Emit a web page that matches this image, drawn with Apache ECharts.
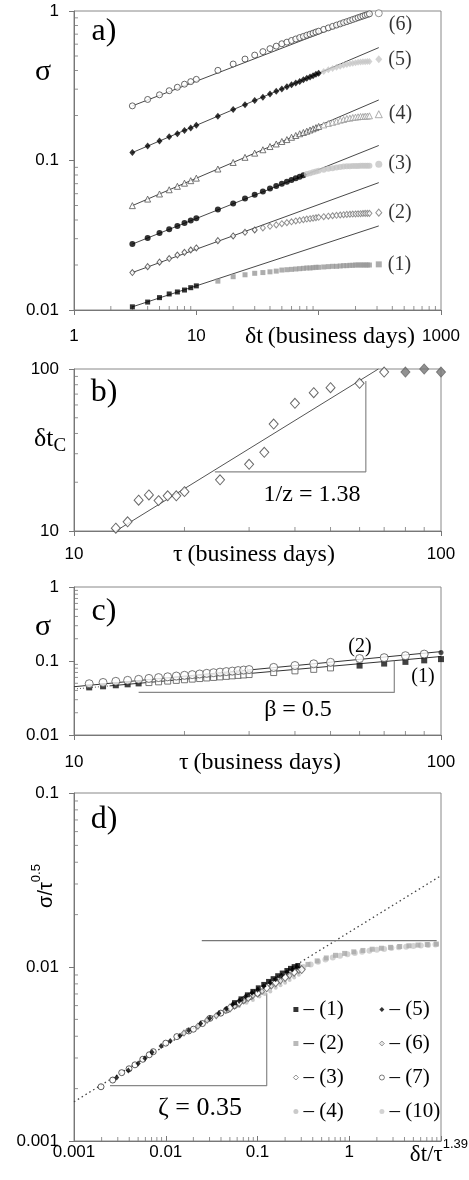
<!DOCTYPE html>
<html><head><meta charset="utf-8">
<script src="https://cdn.jsdelivr.net/npm/echarts@6/dist/echarts.min.js"></script>
<style>html,body{margin:0;padding:0;background:#fff}#c{width:469px;height:1180px}</style>
</head><body><div id="c"></div>
<script>
// ---------- DATA ----------
// panel a: sigma vs dt
const aX = [3,4,5,6,7,8,9,10,15,20,25,30,35,40,45,50,55,60,65,70,75,80,85,90,95,100,110,120,130,140,150,160,170,180,190,200,210,220,230,240,250,260];
const aS1 = [0.0105,0.0113,0.0121,0.0128,0.0132,0.0136,0.0141,0.0145,0.0156,0.0167,0.0172,0.0176,0.0178,0.0180,0.0182,0.0185,0.0186,0.0187,0.0188,0.0189,0.0190,0.0191,0.0191,0.0192,0.0193,0.0193,0.0194,0.0195,0.0196,0.0196,0.0197,0.0198,0.0198,0.0199,0.0199,0.0200,0.0200,0.0200,0.0200,0.0200,0.0200,0.0200];
const aS2 = [0.0178,0.0195,0.0209,0.0221,0.0233,0.0243,0.0252,0.0260,0.0291,0.0313,0.0331,0.0343,0.0354,0.0363,0.0371,0.0378,0.0384,0.0389,0.0394,0.0398,0.0402,0.0406,0.0408,0.0411,0.0414,0.0417,0.0421,0.0424,0.0427,0.0430,0.0432,0.0434,0.0436,0.0437,0.0438,0.0439,0.0440,0.0441,0.0442,0.0443,0.0443,0.0443];
const aS3 = [0.0276,0.0303,0.0327,0.0347,0.0365,0.0382,0.0397,0.0411,0.0470,0.0516,0.0556,0.0590,0.0621,0.0649,0.0675,0.0698,0.0721,0.0741,0.0762,0.0780,0.0798,0.0811,0.0822,0.0834,0.0843,0.0853,0.0867,0.0879,0.0889,0.0897,0.0904,0.0910,0.0914,0.0916,0.0918,0.0920,0.0920,0.0921,0.0922,0.0922,0.0923,0.0923];
const aS4 = [0.0499,0.0552,0.0597,0.0637,0.0672,0.0705,0.0733,0.0762,0.0877,0.0970,0.105,0.112,0.118,0.124,0.129,0.134,0.138,0.143,0.147,0.151,0.154,0.157,0.160,0.163,0.166,0.169,0.173,0.177,0.180,0.183,0.186,0.188,0.191,0.192,0.194,0.195,0.196,0.197,0.197,0.198,0.198,0.199];
const aS5 = [0.113,0.125,0.135,0.144,0.151,0.159,0.165,0.172,0.198,0.219,0.236,0.252,0.265,0.279,0.290,0.301,0.311,0.321,0.330,0.338,0.347,0.355,0.362,0.369,0.377,0.384,0.394,0.404,0.412,0.420,0.427,0.433,0.439,0.444,0.448,0.451,0.454,0.456,0.457,0.458,0.459,0.460];
const aS6 = [0.232,0.256,0.275,0.293,0.309,0.324,0.337,0.349,0.401,0.442,0.477,0.507,0.535,0.560,0.582,0.604,0.619,0.635,0.650,0.664,0.676,0.689,0.700,0.711,0.723,0.733,0.753,0.771,0.789,0.805,0.820,0.836,0.849,0.863,0.877,0.889,0.902,0.914,0.925,0.936,0.947,0.957];
const aLabels = ['(1)','(2)','(3)','(4)','(5)','(6)'];
const aEndX = 310;
const aEndY = [0.0202,0.0448,0.0944,0.204,0.475,0.966];
const aFitX = [3,310];
const aFit1 = [0.0105,0.0365];
const aFit2 = [0.0178,0.0711];
const aFit3 = [0.0276,0.126];
const aFit4 = [0.0499,0.254];
const aFit5 = [0.113,0.569];
const aFit6X = [3,270];
const aFit6 = [0.232,0.96];

// panel b: dt_c vs tau
const bTau = [13,14,15,16,17,18,19,20,25,30,33,35,40,45,50,60,70];
const bDtc = [10.4,11.4,15.5,16.7,15.4,16.5,16.5,17.5,20.7,25.8,30.6,45.7,61.4,71.4,76.7,81.6,95.8];
const bTauG = [80,90,100];
const bDtcG = [95.8,100,95.8];
const bFitX = [13,67.5];
const bFitY = [10,100];
const bTriX = [24.2,62.4,62.4];
const bTriY = [23.2,23.2,84.4];

// panel c: sigma vs tau
const cTau = [11,12,13,14,15,16,17,18,19,20,21,22,23,24,25,26,27,28,29,30,35,40,45,50,60,70,80,90,100];
const cS2 = [0.0493,0.0513,0.0531,0.0548,0.0565,0.0582,0.0597,0.0612,0.0627,0.0641,0.0655,0.0668,0.0682,0.0695,0.0708,0.0720,0.0731,0.0743,0.0755,0.0767,0.0820,0.0869,0.0916,0.0960,0.108,0.111,0.118,0.124,0.130];
const cS1 = [0.0440,0.0455,0.0470,0.0484,0.0498,0.0511,0.0523,0.0535,0.0547,0.0558,0.0569,0.0579,0.0590,0.0600,0.0610,0.0620,0.0630,0.0639,0.0648,0.0656,0.0698,0.0736,0.0771,0.0807,0.0867,0.0923,0.0973,0.102,0.106];
const cFitUX = [10,100], cFitUY = [0.0449,0.134];
const cFitLdX = [10,12.5], cFitLdY = [0.0418,0.0461];
const cFitLX = [12.5,100], cFitLY = [0.0461,0.115];
const cTriX = [15,74.6,74.6];
const cTriY = [0.0376,0.0376,0.1007];

// panel d: scaled collapse
const d1 = [[0.0562,0.00624],[0.0661,0.00656],[0.0776,0.00692],[0.0891,0.00724],[0.102,0.00759],[0.117,0.00794],[0.132,0.00826],[0.148,0.00857],[0.166,0.00891],[0.186,0.00923],[0.209,0.00955],[0.229,0.00982],[0.251,0.01005],[0.275,0.0102]];
const d2 = [[0.355,0.01035],[0.447,0.01084],[0.562,0.01127],[0.708,0.01167],[0.891,0.01197],[1.12,0.01222],[1.41,0.01245],[1.78,0.01265],[2.24,0.01282],[2.82,0.01297],[3.55,0.01312],[4.47,0.01324],[5.62,0.01337],[7.08,0.01346],[8.91,0.01355]];
const d3 = [[0.0501,0.00582],[0.0631,0.00624],[0.0794,0.00668],[0.100,0.00708],[0.126,0.00759],[0.158,0.00813],[0.200,0.00871],[0.251,0.00933],[0.303,0.00966]];
const d4 = [[0.0631,0.00596],[0.0759,0.00624],[0.0891,0.00646],[0.105,0.00676],[0.120,0.00700],[0.138,0.00724],[0.158,0.00759],[0.178,0.00785],[0.200,0.00813],[0.224,0.00841],[0.251,0.00871],[0.282,0.00902]];
const d5 = [[0.00292,0.00232],[0.00391,0.00254],[0.00501,0.00279],[0.00594,0.00299],[0.00708,0.00324],[0.00891,0.00351],[0.0112,0.00376],[0.0143,0.00403],[0.0178,0.00432],[0.0240,0.00473],[0.0302,0.00507],[0.0380,0.00543],[0.0457,0.00575],[0.0537,0.00610],[0.0631,0.00638],[0.0741,0.00676],[0.0871,0.00711],[0.100,0.00741],[0.117,0.00776],[0.138,0.00813],[0.158,0.00851],[0.182,0.00891],[0.209,0.00933],[0.240,0.00966],[0.269,0.0100]];
const d6 = [[0.0158,0.00417],[0.0224,0.00457],[0.0282,0.00495],[0.0355,0.00525],[0.0447,0.00562],[0.0562,0.00596],[0.0708,0.00638],[0.0891,0.00684],[0.112,0.00724],[0.141,0.00776],[0.178,0.00832],[0.224,0.00891],[0.282,0.00955]];
const d7 = [[0.00197,0.00205],[0.00264,0.00224],[0.00331,0.00247],[0.00398,0.00260],[0.00462,0.00274],[0.00562,0.00295],[0.00661,0.00313],[0.00731,0.00326],[0.0100,0.00365],[0.0132,0.00398],[0.0178,0.00429],[0.0200,0.00439],[0.0251,0.00473],[0.0303,0.00507],[0.0398,0.00543],[0.0461,0.00566],[0.0562,0.00600],[0.0700,0.00646],[0.0832,0.00676],[0.100,0.00708]];
const d10 = [[0.316,0.0100],[0.380,0.01035],[0.457,0.01072],[0.550,0.01104],[0.661,0.01135],[0.794,0.01161],[0.955,0.01183],[1.15,0.01202],[1.38,0.01222],[1.66,0.01239],[2.00,0.01256],[2.40,0.01271],[2.88,0.01285],[3.47,0.01297],[4.17,0.01309],[5.01,0.01321],[6.03,0.01330],[7.24,0.01340],[8.71,0.01349]];
const dDotX = [0.001,10], dDotY = [0.00168,0.0335];
const dHorX = [0.0247,8.97], dHorY = [0.01416,0.01416];
const dTriX = [0.00247,0.126,0.126];
const dTriY = [0.00208,0.00208,0.00706];

// ---------- STYLE / BUILD ----------
const SERIF = 'Liberation Serif', SANS = 'Liberation Sans';
const AX = '#777';
const grids = [
  {left:74, top:11, width:367, height:299},
  {left:74, top:369, width:367, height:162},
  {left:74, top:587, width:367, height:148},
  {left:74, top:793, width:367, height:348}
].map(g => Object.assign({show:true, borderColor:'#888', borderWidth:1, backgroundColor:'transparent'}, g));

const ranges = [
  {x:[1,1000], y:[0.01,1]},
  {x:[10,100], y:[10,100]},
  {x:[10,100], y:[0.01,1]},
  {x:[0.001,10], y:[0.001,0.1]}
];
function fmtVal(v){
  const e = Math.round(Math.log10(v));
  return e >= 0 ? String(Math.pow(10,e)) : '0.' + '0'.repeat(-e-1) + '1';
}
const xHide = [[100],[],[],[10]];
const xMargin = [18,15,19,3];
const xInside = [false,false,false,true];
const xAxes = ranges.map((r,i)=>({
  type:'log', logBase:10, gridIndex:i, min:r.x[0], max:r.x[1],
  axisLine:{lineStyle:{color:AX,width:1}},
  axisTick:{show:true, length:5, inside:xInside[i], lineStyle:{color:AX}},
  axisLabel:{color:'#000', fontFamily:SANS, fontSize:17, margin:xMargin[i],
    formatter: v => xHide[i].some(h=>Math.abs(Math.log10(v)-Math.log10(h))<1e-6) ? '' : fmtVal(v)},
  splitLine:{show:false}
}));
const yAxes = ranges.map((r,i)=>({
  type:'log', logBase:10, gridIndex:i, min:r.y[0], max:r.y[1],
  axisLine:{lineStyle:{color:AX,width:1}},
  axisTick:{show:true, length:5, inside:false, lineStyle:{color:AX}},
  axisLabel:{color:'#000', fontFamily:SANS, fontSize:17, margin:15, formatter: v => fmtVal(v)},
  splitLine:{show:false}
}));

const series = [];
// minor ticks (2..9 per decade), drawn with the axes' own scales
const MULT = [2,3,4,5,6,7,8,9];
ranges.forEach((r,i)=>{
  const xs=[], ys=[];
  for (let e=Math.round(Math.log10(r.x[0])); e<Math.round(Math.log10(r.x[1])); e++) MULT.forEach(m=>xs.push([m*Math.pow(10,e), r.y[0]]));
  for (let e=Math.round(Math.log10(r.y[0])); e<Math.round(Math.log10(r.y[1])); e++) MULT.forEach(m=>ys.push([r.x[0], m*Math.pow(10,e)]));
  series.push({type:'scatter', xAxisIndex:i, yAxisIndex:i, silent:true, clip:false, symbol:'rect', symbolSize:[1,4], symbolOffset:[0,-2], itemStyle:{color:AX}, data:xs, z:1});
  series.push({type:'scatter', xAxisIndex:i, yAxisIndex:i, silent:true, clip:false, symbol:'rect', symbolSize:[4,1], symbolOffset:[2,0], itemStyle:{color:AX}, data:ys, z:1});
});

function lineS(i, xs, ys, color, width, type){
  return {type:'line', xAxisIndex:i, yAxisIndex:i, silent:true, showSymbol:false, symbol:'none', clip:false, animation:false,
    lineStyle:{color, width, type: type||'solid'}, data: xs.map((x,k)=>[x, ys[k]]), z:2};
}
// panel a fit lines
[[aFitX,aFit1],[aFitX,aFit2],[aFitX,aFit3],[aFitX,aFit4],[aFitX,aFit5],[aFit6X,aFit6]].forEach(([xs,ys])=>series.push(lineS(0,xs,ys,'#333',0.9)));

function aSeries(ys, cut, symbol, size, sIn, sOut){
  return {type:'scatter', xAxisIndex:0, yAxisIndex:0, symbol, symbolSize:size, clip:false, z:3,
    data: aX.map((x,k)=>({value:[x, ys[k]], itemStyle: x<=cut ? sIn : sOut}))};
}
const BLACK = {color:'#000'};
series.push(aSeries(aS1, 10, 'rect', 5, BLACK, {color:'#999'}));
series.push(aSeries(aS2, 30, 'diamond', [5,6], {color:'#fff', borderColor:'#444', borderWidth:1}, {color:'#fff', borderColor:'#777', borderWidth:1}));
series.push(aSeries(aS3, 75, 'circle', 6, BLACK, {color:'#c4c4c4'}));
series.push(aSeries(aS4, 100, 'triangle', 6, {color:'#fff', borderColor:'#555', borderWidth:1}, {color:'#fff', borderColor:'#999', borderWidth:1}));
series.push(aSeries(aS5, 100, 'diamond', [6,7], BLACK, {color:'#c8c8c8'}));
series.push(aSeries(aS6, 1000, 'circle', 6, {color:'#fff', borderColor:'#444', borderWidth:1}, {}));
// end markers with labels
const endStyles = [
  {symbol:'rect', size:6, st:{color:'#999'}},
  {symbol:'diamond', size:[6,7], st:{color:'#fff', borderColor:'#777', borderWidth:1}},
  {symbol:'circle', size:7, st:{color:'#c4c4c4'}},
  {symbol:'triangle', size:7, st:{color:'#fff', borderColor:'#999', borderWidth:1}},
  {symbol:'diamond', size:[7,8], st:{color:'#c8c8c8'}},
  {symbol:'circle', size:7, st:{color:'#fff', borderColor:'#777', borderWidth:1}}
];
aEndY.forEach((y,k)=>{
  series.push({type:'scatter', xAxisIndex:0, yAxisIndex:0, symbol:endStyles[k].symbol, symbolSize:endStyles[k].size, clip:false, z:3,
    itemStyle:endStyles[k].st,
    data:[{value:[aEndX, y]}],
    label:{show:true, position:'right', distance:6, formatter:aLabels[k], fontFamily:SERIF, fontSize:20, color:'#000', offset: k===5 ? [0,12] : [0,0]}});
});

// panel b
series.push(lineS(1, bFitX, bFitY, '#555', 1));
series.push(lineS(1, bTriX, bTriY, '#888', 1.2));
series.push({type:'scatter', xAxisIndex:1, yAxisIndex:1, symbol:'diamond', symbolSize:[9,10], clip:false, z:3,
  itemStyle:{color:'#fff', borderColor:'#444', borderWidth:1}, data:bTau.map((x,k)=>[x,bDtc[k]])});
series.push({type:'scatter', xAxisIndex:1, yAxisIndex:1, symbol:'diamond', symbolSize:[9,10], clip:false, z:3,
  itemStyle:{color:'#777', borderColor:'#666', borderWidth:1}, data:bTauG.map((x,k)=>[x,bDtcG[k]])});

// panel c
series.push(lineS(2, cFitUX, cFitUY, '#333', 1));
series.push(lineS(2, cFitLX, cFitLY, '#333', 1));
series.push(lineS(2, cFitLdX, cFitLdY, '#555', 1, [1,2]));
series.push(lineS(2, cTriX, cTriY, '#888', 1.2));
series.push({type:'scatter', xAxisIndex:2, yAxisIndex:2, symbol:'rect', symbolSize:6, clip:false, z:3,
  data:cTau.map((x,k)=>({value:[x,cS1[k]], itemStyle:(x<=15||x>=60)?{color:'#111'}:{color:'#fff',borderColor:'#555',borderWidth:1}}))});
series.push({type:'scatter', xAxisIndex:2, yAxisIndex:2, symbol:'circle', symbolSize:8, clip:false, z:4,
  data:cTau.map((x,k)=>({value:[x,cS2[k]], itemStyle: x>=100 ? {color:'#222'} : {color:'#fff',borderColor:'#555',borderWidth:1}, symbolSize: x>=100?5:8}))});

// panel d
series.push(lineS(3, dDotX, dDotY, '#444', 1.3, [1.5,3]));
series.push(lineS(3, dHorX, dHorY, '#777', 1.2));
series.push(lineS(3, dTriX, dTriY, '#888', 1.2));
function dS(name, data, symbol, size, st, z){
  return {type:'scatter', name, xAxisIndex:3, yAxisIndex:3, symbol, symbolSize:size, clip:false, z:z||3, itemStyle:st, data};
}
series.push(dS('(10)', d10, 'circle', 6, {color:'#c8c8c8'}));
series.push(dS('(2)', d2, 'rect', 5, {color:'#a8a8a8'}));
series.push(dS('(4)', d4, 'circle', 4, {color:'#bdbdbd'}));
series.push(dS('(7)', d7, 'circle', 6, {color:'#fff', borderColor:'#333', borderWidth:1}));
series.push(dS('(6)', d6, 'diamond', [5,6], {color:'#ddd', borderColor:'#666', borderWidth:1}));
series.push(dS('(3)', d3, 'diamond', [7,8], {color:'#fff', borderColor:'#555', borderWidth:1}));
series.push(dS('(5)', d5, 'diamond', [5,6], {color:'#000'}, 4));
series.push(dS('(1)', d1, 'rect', 5, {color:'#000'}, 4));

const legendBase = {orient:'vertical', top:994, itemWidth:5, itemHeight:5, itemGap:13, selectedMode:false,
  itemStyle:{borderWidth:0.8},
  textStyle:{fontFamily:SERIF, fontSize:21, color:'#000'}, formatter: n => '\u2013 ' + n};
const legends = [
  Object.assign({}, legendBase, {left:288, data:['(1)','(2)','(3)','(4)']}),
  Object.assign({}, legendBase, {left:374, data:['(5)','(6)','(7)','(10)']})
];

function txt(x, y, text, font, align, extra){
  return Object.assign({type:'text', x, y, silent:true, z:10,
    style:{text, font, fill:'#000', align:align||'center', verticalAlign:'middle'}}, extra||{});
}
const graphic = [
  txt(104, 32, 'a)', '32px ' + SERIF),
  txt(104, 393, 'b)', '32px ' + SERIF),
  txt(104, 612, 'c)', '32px ' + SERIF),
  txt(104, 820, 'd)', '32px ' + SERIF),
  txt(43, 72, 'σ', '30px ' + SERIF),
  txt(43, 627, 'σ', '30px ' + SERIF),
  {type:'text', x:34, y:426, silent:true, z:10, style:{text:'{m|δt}{s|C}', fill:'#000', align:'left', verticalAlign:'top',
    rich:{m:{font:'26px '+SERIF, verticalAlign:'top', lineHeight:30}, s:{font:'19px '+SERIF, verticalAlign:'bottom', lineHeight:30}}}},
  txt(330, 337, 'δt\u2009(business days)', '24px ' + SERIF),
  txt(254, 555, 'τ\u2009(business days)', '24px ' + SERIF),
  txt(260, 763, 'τ\u2009(business days)', '24px ' + SERIF),
  txt(312, 495, '1/z = 1.38', '24px ' + SERIF),
  txt(298, 710, 'β = 0.5', '24px ' + SERIF),
  txt(200, 1108, 'ζ = 0.35', '26px ' + SERIF),
  txt(360, 647, '(2)', '20px ' + SERIF),
  txt(423, 677, '(1)', '20px ' + SERIF),
  {type:'text', x:43, y:886, rotation:Math.PI/2, silent:true, z:10, style:{text:'{m|σ/τ}{s|0.5}', fill:'#000', align:'center', verticalAlign:'middle',
    rich:{m:{font:'20px '+SANS, verticalAlign:'bottom', lineHeight:26}, s:{font:'13px '+SANS, verticalAlign:'top', lineHeight:26}}}},
  {type:'text', x:468, y:1138, silent:true, z:10, style:{text:'{m|δt/τ}{s|1.39}', fill:'#000', align:'right', verticalAlign:'top',
    rich:{m:{font:'23px '+SERIF, verticalAlign:'bottom', lineHeight:28}, s:{font:'13px '+SANS, verticalAlign:'top', lineHeight:28}}}}
];

const chart = echarts.init(document.getElementById('c'), null, {renderer:'canvas'});
chart.setOption({animation:false, backgroundColor:'#fff', grid:grids, xAxis:xAxes, yAxis:yAxes, series, legend:legends, graphic});
</script></body></html>
